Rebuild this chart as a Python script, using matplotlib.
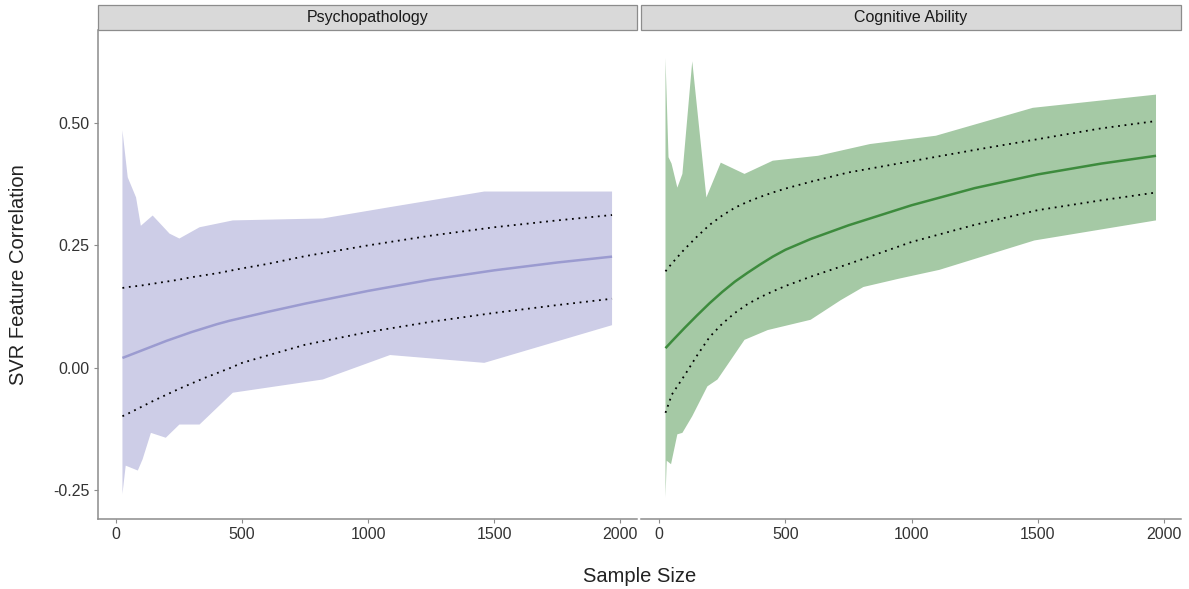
import numpy as np
import matplotlib
matplotlib.use("Agg")
import matplotlib.pyplot as plt
from matplotlib.patches import Rectangle

plt.rcParams['font.family'] = ['Liberation Sans', 'DejaVu Sans']

# ---------------- data ----------------
panels = ["Psychopathology", "Cognitive Ability"]

line_x = [25, 50, 100, 150, 200, 250, 300, 350, 400, 450, 500, 600, 750, 1000, 1250, 1500, 1750, 1968]

psy_mean = [0.020, 0.025, 0.035, 0.045, 0.055, 0.064, 0.073, 0.081, 0.089, 0.096, 0.102, 0.114,
            0.131, 0.157, 0.180, 0.199, 0.215, 0.227]
psy_hi = [0.163, 0.165, 0.168, 0.172, 0.176, 0.180, 0.185, 0.189, 0.193, 0.198, 0.203, 0.212,
          0.228, 0.250, 0.270, 0.287, 0.301, 0.312]
psy_lo = [-0.099, -0.093, -0.080, -0.067, -0.055, -0.043, -0.032, -0.021, -0.011, -0.001, 0.010, 0.025,
          0.047, 0.073, 0.094, 0.112, 0.128, 0.141]

cog_mean = [0.040, 0.054, 0.081, 0.107, 0.132, 0.155, 0.176, 0.194, 0.211, 0.227, 0.241, 0.263,
            0.291, 0.332, 0.367, 0.395, 0.417, 0.433]
cog_hi = [0.197, 0.213, 0.242, 0.268, 0.292, 0.311, 0.327, 0.339, 0.349, 0.358, 0.366, 0.380,
          0.399, 0.422, 0.445, 0.467, 0.489, 0.504]
cog_lo = [-0.092, -0.055, -0.016, 0.025, 0.063, 0.090, 0.112, 0.130, 0.144, 0.156, 0.167, 0.186,
          0.212, 0.257, 0.292, 0.322, 0.342, 0.358]

# ribbon (min/max envelope) edges
psy_up_x = [25, 46, 79, 98, 145, 212, 251, 331, 463, 820, 1085, 1461, 1968]
psy_up_y = [0.485, 0.389, 0.348, 0.290, 0.311, 0.274, 0.264, 0.287, 0.301, 0.305, 0.328, 0.360, 0.360]
psy_lo_x = [25, 38, 86, 105, 138, 197, 251, 331, 463, 820, 1087, 1461, 1968]
psy_lo_y = [-0.258, -0.200, -0.210, -0.187, -0.133, -0.143, -0.116, -0.116, -0.051, -0.024, 0.026, 0.010, 0.087]

cog_up_x = [25, 37, 49, 72, 92, 131, 187, 244, 338, 450, 629, 835, 1096, 1480, 1968]
cog_up_y = [0.633, 0.430, 0.417, 0.368, 0.396, 0.626, 0.348, 0.419, 0.396, 0.423, 0.433, 0.457, 0.474, 0.531, 0.558]
cog_lo_x = [25, 30, 47, 72, 92, 131, 191, 231, 338, 430, 600, 719, 809, 950, 1110, 1486, 1968]
cog_lo_y = [-0.265, -0.190, -0.197, -0.136, -0.133, -0.099, -0.038, -0.024, 0.057, 0.077, 0.098, 0.138, 0.165, 0.182, 0.200, 0.260, 0.301]

x_ticks = [0, 500, 1000, 1500, 2000]
y_ticks = [-0.25, 0.0, 0.25, 0.50]
y_ticklabels = ["-0.25", "0.00", "0.25", "0.50"]

# ---------------- style ----------------
fill_cols = ["#cdcde7", "#a5c9a5"]
line_cols = ["#9b9bd0", "#3d8b3d"]
axis_col = "#8c8c8c"
txt_col = "#333333"

fig = plt.figure(figsize=(11.89, 5.89), dpi=100)
W, H = 1189, 589
def fx(p): return p / W
def fy(p): return 1 - p / H

ax_l = fig.add_axes([fx(98), fy(519), fx(637 - 98), (519 - 30) / H])
ax_r = fig.add_axes([fx(641), fy(519), fx(1181 - 641), (519 - 30) / H])
axes = [ax_l, ax_r]

data = [
    (psy_up_x, psy_up_y, psy_lo_x, psy_lo_y, psy_mean, psy_hi, psy_lo),
    (cog_up_x, cog_up_y, cog_lo_x, cog_lo_y, cog_mean, cog_hi, cog_lo),
]

dot_style = (0, (1.0, 2.6))

for i, (ax, d) in enumerate(zip(axes, data)):
    ux, uy, lx, ly, m, hi, lo = d
    poly_x = np.concatenate([ux, lx[::-1]])
    poly_y = np.concatenate([uy, ly[::-1]])
    ax.fill(poly_x, poly_y, color=fill_cols[i], lw=0, zorder=1)
    ax.plot(line_x, m, color=line_cols[i], lw=1.8, zorder=3, solid_capstyle="butt")
    ax.plot(line_x, hi, color="black", lw=1.3, ls=dot_style, zorder=3)
    ax.plot(line_x, lo, color="black", lw=1.3, ls=dot_style, zorder=3)

    ax.set_xlim(-72, 2067)
    ax.set_ylim(-0.309, 0.69)
    ax.set_xticks(x_ticks)
    ax.set_xticklabels([str(t) for t in x_ticks], fontsize=11.5, color=txt_col)
    ax.set_yticks(y_ticks)
    ax.tick_params(axis="both", length=3, width=0.8, color=axis_col, pad=3)
    for s in ["top", "right"]:
        ax.spines[s].set_visible(False)
    ax.spines["bottom"].set_color(axis_col)
    ax.spines["bottom"].set_linewidth(1.1)
    if i == 0:
        ax.spines["left"].set_color(axis_col)
        ax.spines["left"].set_linewidth(1.1)
        ax.set_yticklabels(y_ticklabels, fontsize=11.5, color=txt_col)
    else:
        ax.spines["left"].set_visible(False)
        ax.tick_params(axis="y", left=False, labelleft=False)

    # facet strip
    pos = ax.get_position()
    strip = Rectangle((pos.x0, fy(30)), pos.width, (30 - 5) / H,
                      transform=fig.transFigure, facecolor="#d9d9d9",
                      edgecolor="#8c8c8c", lw=0.9, zorder=5)
    fig.patches.append(strip)
    fig.text(pos.x0 + pos.width / 2, fy(17.5), panels[i], ha="center", va="center",
             fontsize=11.5, color="#1a1a1a", zorder=6)

fig.text(fx(19), (fy(519) + fy(30)) / 2, "SVR Feature Correlation", rotation=90,
         ha="center", va="center", fontsize=14.5, color="#222222")
fig.text((fx(98) + fx(1181)) / 2, fy(576), "Sample Size", ha="center", va="center",
         fontsize=14.5, color="#222222")

fig.savefig("out.png", dpi=100)
